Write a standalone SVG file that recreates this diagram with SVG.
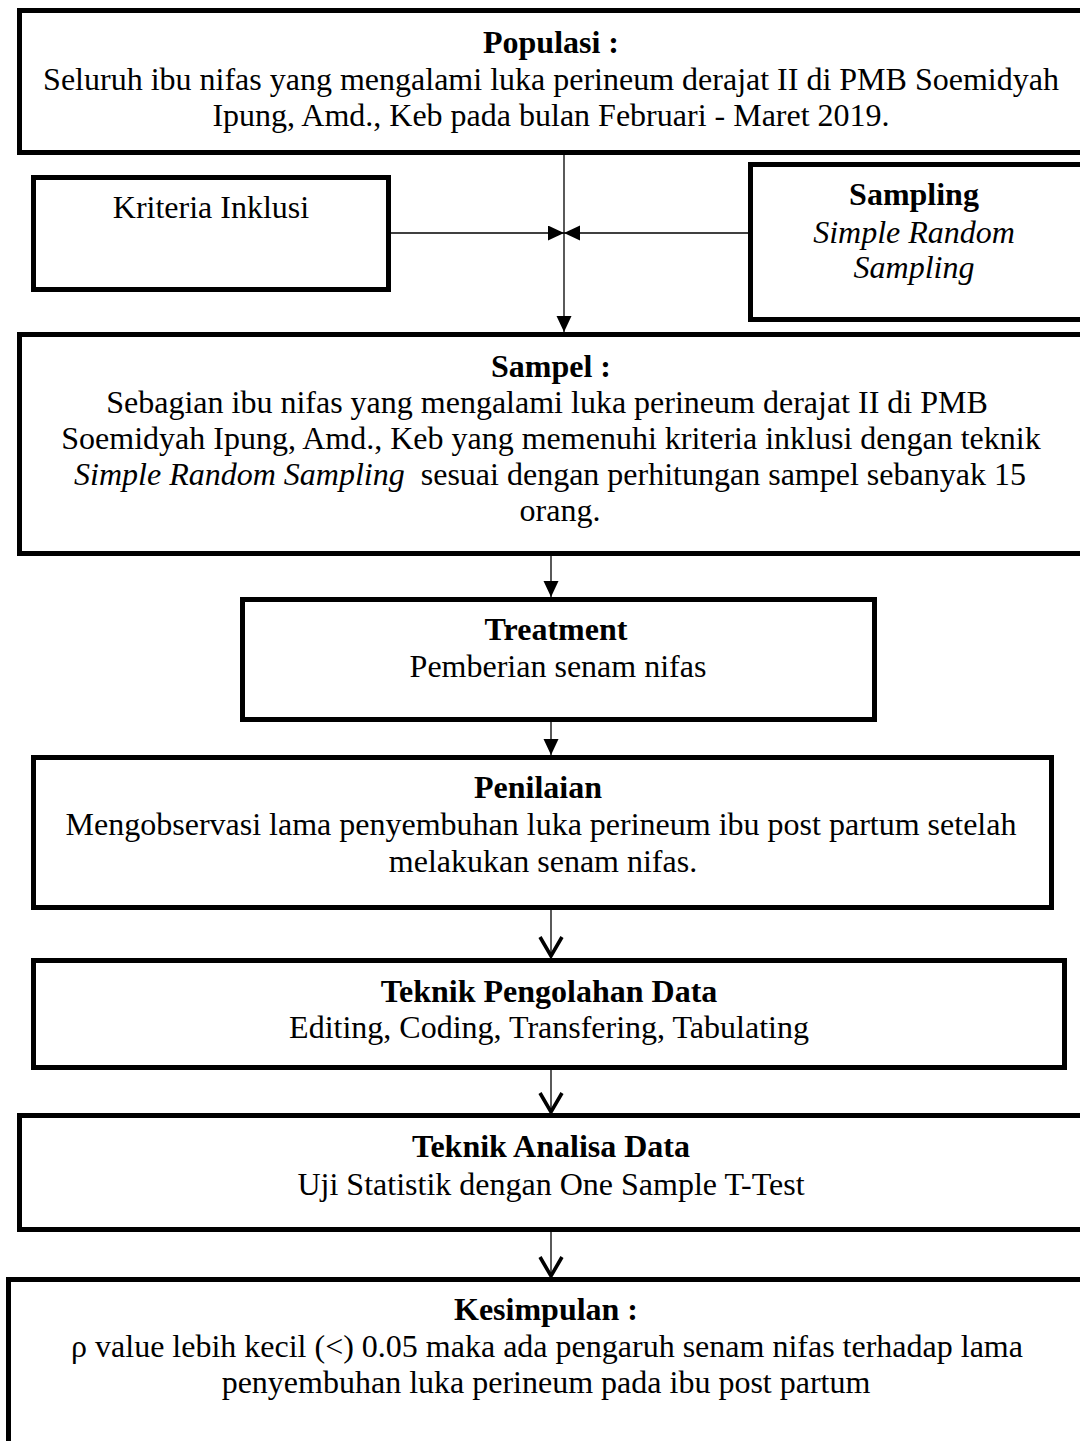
<svg xmlns="http://www.w3.org/2000/svg" width="1080" height="1441" viewBox="0 0 1080 1441">
<style>
  .box { fill: #ffffff; stroke: #000000; stroke-width: 5; }
  .t { font-family: "Liberation Serif", "Times New Roman", serif; font-size: 32px; fill: #000000; text-anchor: middle; }
  .b { font-weight: bold; }
  .i { font-style: italic; }
  .ln { fill: none; stroke: #000000; stroke-width: 1.3; }
</style>
<defs>
  <marker id="fill" markerUnits="userSpaceOnUse" markerWidth="16" markerHeight="16" refX="16" refY="7.5" orient="auto">
    <path d="M0,0 L16,7.5 L0,15 Z" fill="#000000"/>
  </marker>
  <marker id="vee" markerUnits="userSpaceOnUse" markerWidth="26" markerHeight="30" refX="21" refY="13" orient="auto">
    <path d="M1,2 L20,13 L1,24" fill="none" stroke="#000000" stroke-width="3.6"/>
  </marker>
</defs>
<rect width="1080" height="1441" fill="#ffffff"/>

<g id="connectors">
  <line class="ln" x1="564" y1="155" x2="564" y2="332" marker-end="url(#fill)"/>
  <line class="ln" x1="391" y1="233" x2="564" y2="233" marker-end="url(#fill)"/>
  <line class="ln" x1="748" y1="233" x2="564" y2="233" marker-end="url(#fill)"/>
  <line class="ln" x1="551" y1="556" x2="551" y2="597" marker-end="url(#fill)"/>
  <line class="ln" x1="551" y1="722" x2="551" y2="755" marker-end="url(#fill)"/>
  <line class="ln" x1="551" y1="910" x2="551" y2="957" marker-end="url(#vee)"/>
  <line class="ln" x1="551" y1="1070" x2="551" y2="1113" marker-end="url(#vee)"/>
  <line class="ln" x1="551" y1="1232" x2="551" y2="1277" marker-end="url(#vee)"/>
</g>

<g id="populasi">
  <rect class="box" x="19.5" y="10.5" width="1080" height="142"/>
  <text class="t b" x="551" y="53">Populasi :</text>
  <text class="t" x="551" y="90">Seluruh ibu nifas yang mengalami luka perineum derajat II di PMB Soemidyah</text>
  <text class="t" x="551" y="126">Ipung, Amd., Keb pada bulan Februari - Maret 2019.</text>
</g>

<g id="kriteria">
  <rect class="box" x="33.5" y="177.5" width="355" height="112"/>
  <text class="t" x="211" y="218">Kriteria Inklusi</text>
</g>

<g id="sampling">
  <rect class="box" x="750.5" y="164.5" width="340" height="155"/>
  <text class="t b" x="914" y="205">Sampling</text>
  <text class="t i" x="914" y="243">Simple Random</text>
  <text class="t i" x="914" y="278">Sampling</text>
</g>

<g id="sampel">
  <rect class="box" x="19.5" y="334.5" width="1080" height="219"/>
  <text class="t b" x="551" y="377">Sampel :</text>
  <text class="t" x="547" y="413">Sebagian ibu nifas yang mengalami luka perineum derajat II di PMB</text>
  <text class="t" x="551" y="449">Soemidyah Ipung, Amd., Keb yang memenuhi kriteria inklusi dengan teknik</text>
  <text class="t" x="550" y="485" xml:space="preserve"><tspan class="i">Simple Random Sampling</tspan>  sesuai dengan perhitungan sampel sebanyak 15</text>
  <text class="t" x="560" y="521">orang.</text>
</g>

<g id="treatment">
  <rect class="box" x="242.5" y="599.5" width="632" height="120"/>
  <text class="t b" x="556" y="640">Treatment</text>
  <text class="t" x="558" y="677">Pemberian senam nifas</text>
</g>

<g id="penilaian">
  <rect class="box" x="33.5" y="757.5" width="1018" height="150"/>
  <text class="t b" x="538" y="798">Penilaian</text>
  <text class="t" x="541" y="835">Mengobservasi lama penyembuhan luka perineum ibu post partum setelah</text>
  <text class="t" x="543" y="872">melakukan senam nifas.</text>
</g>

<g id="pengolahan">
  <rect class="box" x="33.5" y="960.5" width="1031" height="107"/>
  <text class="t b" x="549" y="1002">Teknik Pengolahan Data</text>
  <text class="t" x="549" y="1038">Editing, Coding, Transfering, Tabulating</text>
</g>

<g id="analisa">
  <rect class="box" x="19.5" y="1115.5" width="1080" height="114"/>
  <text class="t b" x="551" y="1157">Teknik Analisa Data</text>
  <text class="t" x="551" y="1195">Uji Statistik dengan One Sample T-Test</text>
</g>

<g id="kesimpulan">
  <rect class="box" x="8.5" y="1279.5" width="1090" height="200"/>
  <text class="t b" x="546" y="1320">Kesimpulan :</text>
  <text class="t" x="547" y="1357">ρ value lebih kecil (&lt;) 0.05 maka ada pengaruh senam nifas terhadap lama</text>
  <text class="t" x="546" y="1393">penyembuhan luka perineum pada ibu post partum</text>
</g>
</svg>
